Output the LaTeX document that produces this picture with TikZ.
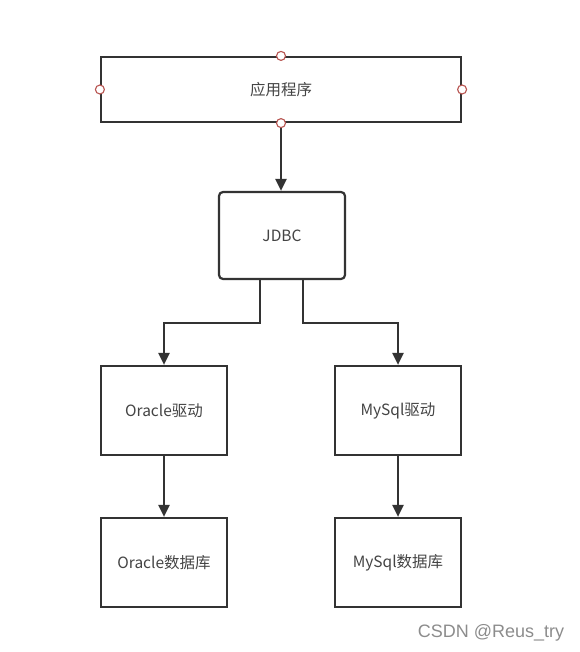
\documentclass[tikz,border=0pt]{standalone}
\usepackage{fontspec}
\setmainfont{Noto Sans CJK SC}
\newfontfamily\wmfont{Liberation Sans}
\usetikzlibrary{arrows.meta}
\definecolor{ln}{HTML}{333333}
\definecolor{tx}{HTML}{444444}
\definecolor{hd}{HTML}{B85450}
\tikzset{
  box/.style={draw=ln, line width=2.2pt, fill=white, text=tx, font=\fontsize{15.5}{18}\selectfont, inner sep=0pt},
  arr/.style={draw=ln, line width=2.2pt, -{Triangle[length=12pt,width=11pt]}},
  handle/.style={circle, draw=hd, fill=white, line width=1.1pt, minimum size=9pt, inner sep=0pt},
}
\begin{document}
\begin{tikzpicture}[x=1pt,y=-1pt]
\useasboundingbox (0,0) rectangle (579,652);
\node[box, minimum width=360pt, minimum height=65pt] (app) at (281,89.5) {应用程序};
\node[box, rounded corners=4pt, minimum width=126pt, minimum height=87pt] (jdbc) at (282,235.5) {JDBC};
\node[box, minimum width=126pt, minimum height=89pt] (ord) at (164,410.5) {Oracle驱动};
\node[box, minimum width=126pt, minimum height=89pt] (myd) at (398,410.5) {MySql驱动};
\node[box, minimum width=126pt, minimum height=89pt] (ordb) at (164,562.5) {Oracle数据库};
\node[box, minimum width=126pt, minimum height=89pt] (mydb) at (398,562.5) {MySql数据库};
\draw[arr] (app.south) -- (app.south |- jdbc.north);
\draw[arr] ([xshift=-22pt]jdbc.south) -- ++(0,43) -| (ord.north);
\draw[arr] ([xshift=21pt]jdbc.south) -- ++(0,43) -| (myd.north);
\draw[arr] (ord.south) -- (ordb.north);
\draw[arr] (myd.south) -- (mydb.north);
\node[handle] (h1) at (app.north) {};
\node[handle] (h2) at (app.south) {};
\node[handle] (h3) at (app.west) {};
\node[handle] (h4) at (app.east) {};
\node[text=black!45, font=\wmfont\fontsize{18}{21}\selectfont, inner sep=0pt] (wm) at (491,633) {CSDN @Reus\_try};
\end{tikzpicture}
\end{document}
